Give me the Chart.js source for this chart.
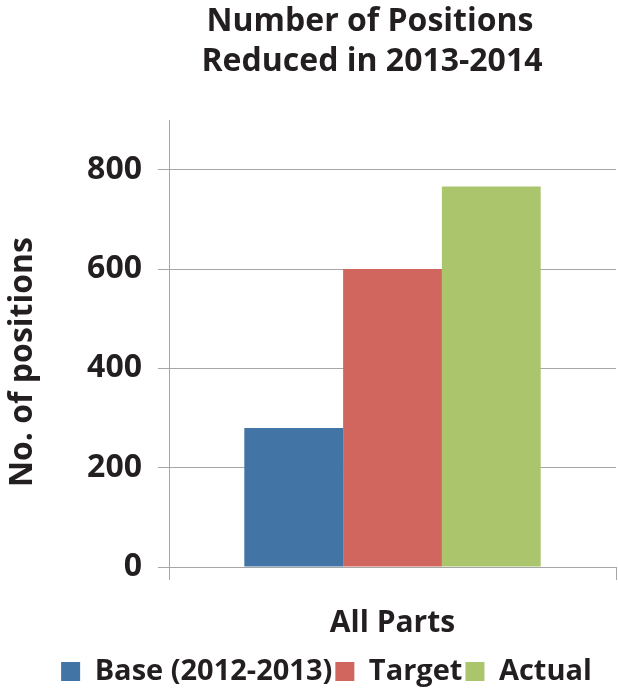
<!DOCTYPE html>
<html>
<head>
<meta charset="utf-8">
<script src="https://cdn.jsdelivr.net/npm/chart.js@4/dist/chart.umd.min.js"></script>
<style>
  html, body { margin: 0; padding: 0; background: #fff; }
  #wrap { width: 618px; height: 696px; }
</style>
</head>
<body>
<div id="wrap"><canvas id="posChart" width="618" height="696"></canvas></div>
<script>
    var categories = ['All Parts'];
    var seriesNames = ['Base (2012-2013)', 'Target', 'Actual'];
    var baseValues = [280];
    var targetValues = [600];
    var actualValues = [766];
    var yTicks = [0, 200, 400, 600, 800];
    var titleLines = ['Number of Positions', 'Reduced in 2013-2014'];
    var yTitle = 'No. of positions';
    var colors = ['#4274a5', '#d1665f', '#abc56c'];

    var fam = '"Open Sans", sans-serif';
    var ink = '#231f20';
    var seriesValues = [baseValues, targetValues, actualValues];
    var datasets = [];
    seriesNames.forEach(function(name, i){
        datasets.push({
            label: name,
            data: seriesValues[i],
            backgroundColor: colors[i],
            borderWidth: 0,
            categoryPercentage: 0.663,
            barPercentage: 1
        });
    });

    // the original puts the titles and legend a little off-centre, so place them by hand
    var offsetPlugin = {
        id: 'offTitles',
        afterLayout: function(chart){
            chart.legend.left += 18;
            chart.legend.right += 18;
        },
        afterDraw: function(chart){
            var ctx = chart.ctx;
            ctx.save();
            ctx.fillStyle = ink;
            ctx.font = 'bold 32px ' + fam;
            ctx.textAlign = 'center';
            ctx.textBaseline = 'alphabetic';
            ctx.fillText(titleLines[0], 370, 31);
            ctx.fillText(titleLines[1], 372, 71);
            ctx.translate(32, 362);
            ctx.rotate(-Math.PI / 2);
            ctx.fillText(yTitle, 0, 0);
            ctx.restore();
        }
    };

    new Chart(document.getElementById('posChart'), {
        type: 'bar',
        data: { labels: categories, datasets: datasets },
        plugins: [offsetPlugin],
        options: {
            responsive: false,
            animation: false,
            layout: { padding: { left: 1, right: 2, top: 120, bottom: 0 } },
            plugins: {
                legend: {
                    position: 'bottom',
                    labels: {
                        color: ink,
                        font: { family: fam, size: 29, weight: 'bold' },
                        boxWidth: 19,
                        boxHeight: 19,
                        padding: 3
                    }
                },
                tooltip: { enabled: false }
            },
            scales: {
                x: {
                    grid: { drawOnChartArea: false, drawTicks: true, tickLength: 13, color: '#a6a6a6' },
                    border: { color: '#a6a6a6' },
                    ticks: { display: false },
                    title: {
                        display: true,
                        text: categories[0],
                        color: ink,
                        font: { family: fam, size: 30, weight: 'bold' },
                        padding: { top: 25, bottom: 13 }
                    }
                },
                y: {
                    min: 0,
                    max: 900,
                    afterBuildTicks: function(axis){
                        axis.ticks = yTicks.map(function(v){ return { value: v }; });
                    },
                    afterFit: function(axis){
                        axis.width = 168;
                    },
                    grid: { color: '#a6a6a6', tickLength: 11 },
                    border: { color: '#a6a6a6' },
                    ticks: {
                        color: ink,
                        font: { family: fam, size: 32, weight: 'bold' },
                        padding: 16
                    }
                }
            }
        }
    });
</script>
</body>
</html>
